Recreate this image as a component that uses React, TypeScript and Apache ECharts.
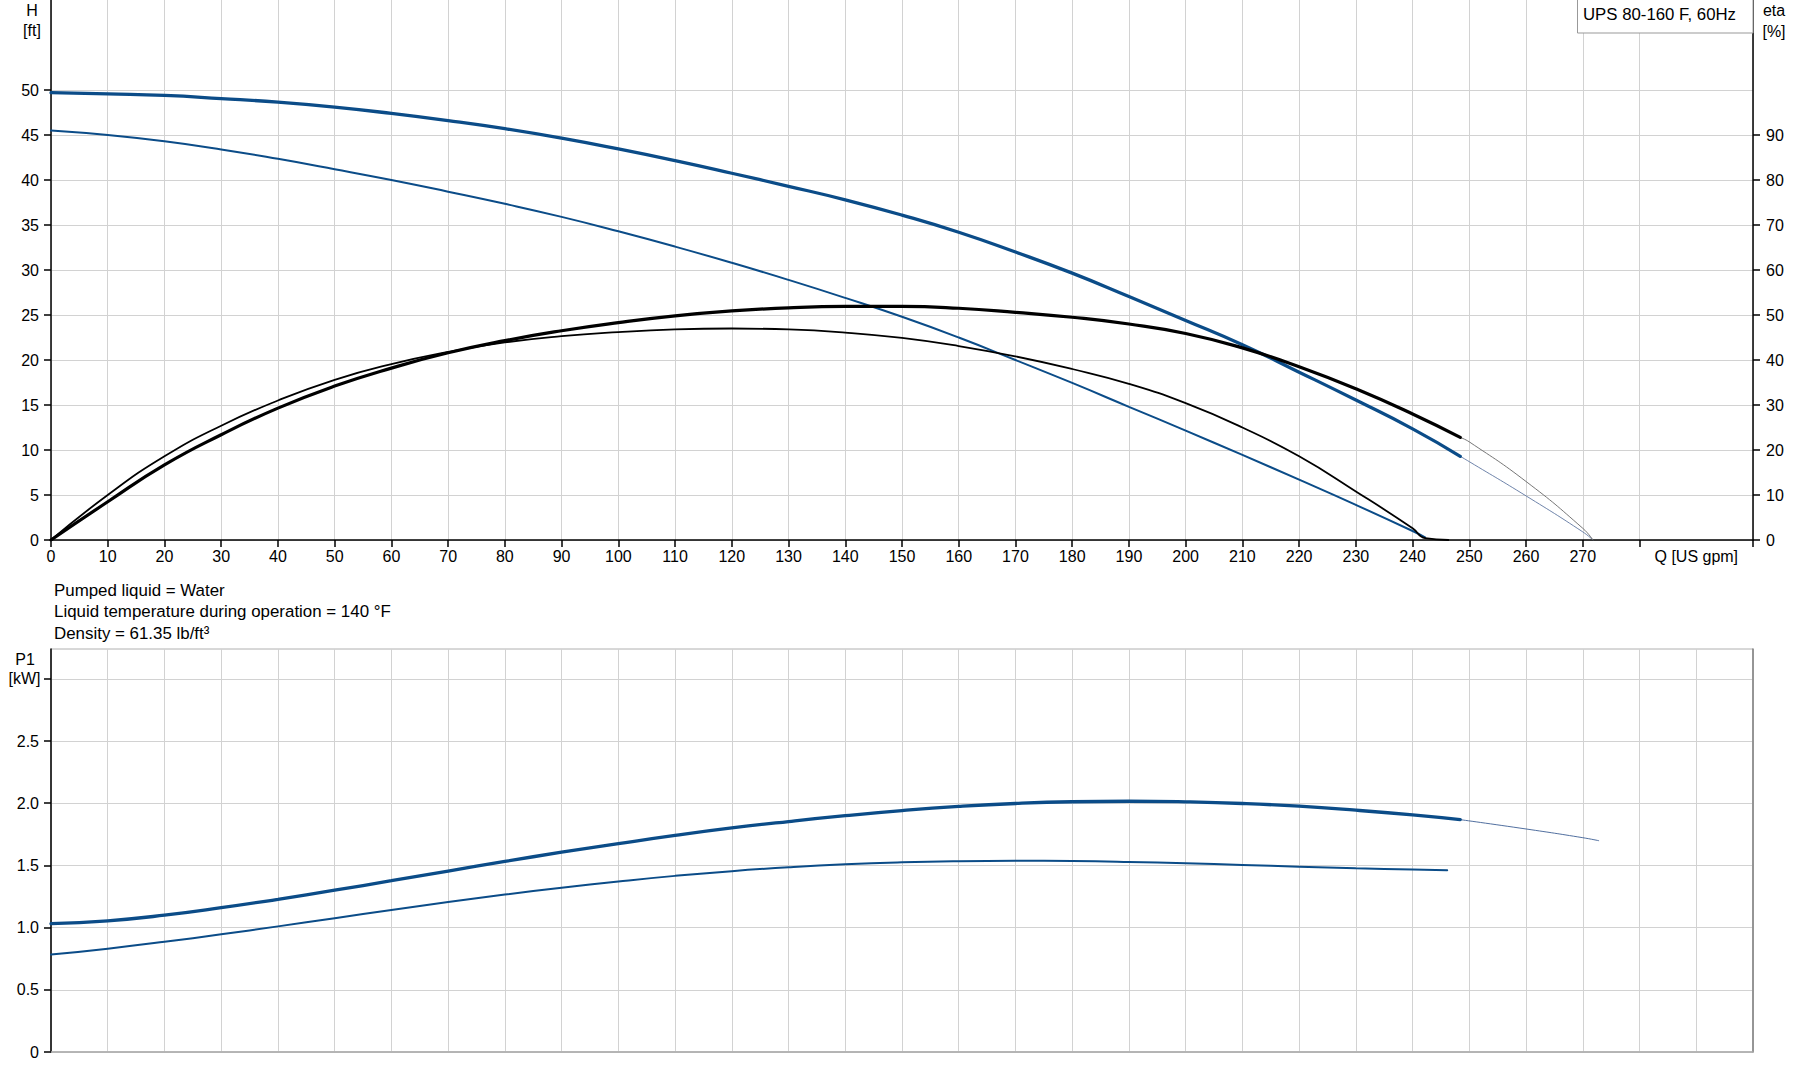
import React, { useEffect, useRef } from 'react';
import * as echarts from 'echarts';

// ---------- data (Q in US gpm) ----------
const qHMax = [0, 10, 20, 30, 40, 50, 60, 70, 80, 90, 100, 110, 120, 130, 140, 150, 160, 170, 180, 190, 200, 210, 220, 230, 240, 248.4];
const hMax = [49.7, 49.56, 49.4, 49.05, 48.65, 48.1, 47.4, 46.6, 45.7, 44.65, 43.45, 42.15, 40.75, 39.3, 37.8, 36.1, 34.2, 32.0, 29.65, 27.05, 24.4, 21.7, 18.65, 15.55, 12.35, 9.3];
const qHMaxExt = [248.4, 250, 260, 270, 271.8];
const hMaxExt = [9.3, 8.7, 4.9, 0.9, 0];

const qHLow = [0, 10, 20, 30, 40, 50, 60, 70, 80, 90, 100, 110, 120, 130, 140, 150, 160, 170, 180, 190, 200, 210, 220, 230, 240, 242.2];
const hLow = [45.5, 45.0, 44.3, 43.4, 42.35, 41.2, 40.0, 38.7, 37.35, 35.9, 34.3, 32.6, 30.8, 28.9, 26.9, 24.8, 22.5, 20.0, 17.45, 14.8, 12.15, 9.45, 6.7, 3.9, 1.0, 0.3];

const qEtaMax = [0, 10, 20, 30, 40, 50, 60, 70, 80, 90, 100, 110, 120, 130, 140, 150, 160, 170, 180, 190, 200, 210, 220, 230, 240, 248.4];
const etaMax = [0, 8.5, 16.7, 23.4, 29.3, 34.2, 38.2, 41.6, 44.3, 46.5, 48.3, 49.8, 50.9, 51.6, 51.9, 51.9, 51.5, 50.6, 49.5, 48.0, 45.9, 42.7, 38.5, 33.6, 28.0, 22.8];
const qEtaMaxExt = [248.4, 250, 260, 270, 271.8];
const etaMaxExt = [22.8, 21.8, 13.0, 2.6, 0];

const qEtaLow = [0, 10, 20, 30, 40, 50, 60, 70, 80, 90, 100, 110, 120, 130, 140, 150, 160, 170, 180, 190, 200, 210, 220, 230, 240, 242.2, 246.3];
const etaLow = [0, 10.0, 18.6, 25.4, 31.0, 35.6, 39.1, 41.8, 43.9, 45.3, 46.2, 46.8, 47.0, 46.8, 46.1, 44.9, 43.1, 40.8, 38.0, 34.7, 30.4, 25.0, 18.6, 10.8, 2.6, 0.4, 0];

const qP1Max = [0, 10, 20, 30, 40, 50, 60, 70, 80, 90, 100, 110, 120, 130, 140, 150, 160, 170, 180, 190, 200, 210, 220, 230, 240, 248.4];
const p1Max = [1.032, 1.055, 1.100, 1.160, 1.228, 1.301, 1.377, 1.455, 1.532, 1.606, 1.675, 1.741, 1.801, 1.853, 1.900, 1.941, 1.974, 1.998, 2.012, 2.016, 2.011, 1.998, 1.976, 1.944, 1.906, 1.868];
const qP1MaxExt = [248.4, 260, 270, 272.8];
const p1MaxExt = [1.868, 1.793, 1.723, 1.699];

const qP1Low = [0, 10, 20, 30, 40, 50, 60, 70, 80, 90, 100, 110, 120, 130, 140, 150, 160, 170, 180, 190, 200, 210, 220, 230, 240, 246.1];
const p1Low = [0.783, 0.831, 0.886, 0.946, 1.010, 1.076, 1.142, 1.206, 1.266, 1.321, 1.371, 1.416, 1.454, 1.485, 1.509, 1.525, 1.534, 1.537, 1.535, 1.528, 1.517, 1.504, 1.490, 1.477, 1.467, 1.462];

// ---------- tick labels ----------
const qLabelValues = [0, 10, 20, 30, 40, 50, 60, 70, 80, 90, 100, 110, 120, 130, 140, 150, 160, 170, 180, 190, 200, 210, 220, 230, 240, 250, 260, 270, 290];
const qTickValues = [0, 10, 20, 30, 40, 50, 60, 70, 80, 90, 100, 110, 120, 130, 140, 150, 160, 170, 180, 190, 200, 210, 220, 230, 240, 250, 260, 270, 280, 300];
const qAxisName = 'Q [US gpm]';
const hLabelValues = [0, 5, 10, 15, 20, 25, 30, 35, 40, 45, 50];
const etaLabelValues = [0, 10, 20, 30, 40, 50, 60, 70, 80, 90];
const p1LabelValues = [0, 0.5, 1.0, 1.5, 2.0, 2.5];
const p1TickValues = [0, 0.5, 1.0, 1.5, 2.0, 2.5, 3.0];
const titleText = 'UPS 80-160 F, 60Hz';
const noteLines = [
  'Pumped liquid = Water',
  'Liquid temperature during operation = 140 °F',
  'Density = 61.35 lb/ft³',
];

const zip = (q: number[], v: number[]) => q.map((x, i) => [x, v[i]]);

const FONT = 'Arial, "Liberation Sans", sans-serif';
const BLUE = '#0b4c88';
const GRID = '#d2d2d2';

export default function App() {
  const ref = useRef<HTMLDivElement>(null);

  useEffect(() => {
    if (!ref.current) return;
    const chart = echarts.init(ref.current, undefined, { renderer: 'svg' });

    const axisText = { color: '#000', fontSize: 16, fontFamily: FONT };

    const line = (name: string, data: number[][], color: string, width: number, xi: number, yi: number) => ({
      name,
      type: 'line',
      xAxisIndex: xi,
      yAxisIndex: yi,
      data,
      smooth: 0.5,
      symbol: 'none',
      showSymbol: false,
      lineStyle: { color, width, cap: 'round' },
      emphasis: { disabled: true },
      z: 5,
    });

    const option: any = {
      animation: false,
      backgroundColor: '#fff',
      grid: [
        { left: 51, top: 0, width: 1702, height: 540, show: false },
        { left: 51, top: 649, width: 1702, height: 403, show: true, borderColor: '#b0b0b0', borderWidth: 1 },
      ],
      xAxis: [
        {
          type: 'value', gridIndex: 0, min: 0, max: 300, interval: 10,
          axisLine: { show: true, onZero: false, lineStyle: { color: '#000', width: 1.5 } },
          axisTick: { show: true, length: 7, lineStyle: { color: '#000', width: 1.5 }, customValues: qTickValues },
          axisLabel: {
            ...axisText, margin: 8, customValues: qLabelValues,
            formatter: (v: number) => (v === 290 ? qAxisName : String(v)),
          },
          splitLine: { show: true, lineStyle: { color: GRID, width: 1 } },
        },
        {
          type: 'value', gridIndex: 1, min: 0, max: 300, interval: 10,
          axisLine: { show: true, onZero: false, lineStyle: { color: '#aaa', width: 1.5 } },
          axisTick: { show: false },
          axisLabel: { show: false },
          splitLine: { show: true, lineStyle: { color: GRID, width: 1 } },
        },
      ],
      yAxis: [
        {
          type: 'value', gridIndex: 0, position: 'left', min: 0, max: 60, interval: 5,
          axisLine: { show: true, onZero: false, lineStyle: { color: '#000', width: 1.5 } },
          axisTick: { show: true, length: 7, lineStyle: { color: '#000', width: 1.5 }, customValues: hLabelValues },
          axisLabel: { ...axisText, margin: 12, customValues: hLabelValues },
          splitLine: { show: true, lineStyle: { color: GRID, width: 1 } },
        },
        {
          type: 'value', gridIndex: 0, position: 'right', min: 0, max: 120, interval: 10,
          axisLine: { show: true, onZero: false, lineStyle: { color: '#000', width: 1.5 } },
          axisTick: { show: true, length: 7, lineStyle: { color: '#000', width: 1.5 }, customValues: etaLabelValues },
          axisLabel: { ...axisText, margin: 13, customValues: etaLabelValues },
          splitLine: { show: false },
        },
        {
          type: 'value', gridIndex: 1, position: 'left', min: 0, max: 3.24, interval: 0.5,
          axisLine: { show: true, onZero: false, lineStyle: { color: '#000', width: 1.5 } },
          axisTick: { show: true, length: 7, lineStyle: { color: '#000', width: 1.5 }, customValues: p1TickValues },
          axisLabel: {
            ...axisText, margin: 12, customValues: p1LabelValues,
            formatter: (v: number) => (v === 0 ? '0' : v.toFixed(1)),
          },
          splitLine: { show: true, lineStyle: { color: GRID, width: 1 } },
        },
        {
          type: 'value', gridIndex: 1, position: 'right', min: 0, max: 3.24, interval: 0.5,
          axisLine: { show: true, onZero: false, lineStyle: { color: '#808080', width: 1.5 } },
          axisTick: { show: false },
          axisLabel: { show: false },
          splitLine: { show: false },
        },
      ],
      series: [
        line('H max ext', zip(qHMaxExt, hMaxExt), '#5f76a0', 0.9, 0, 0),
        line('eta max ext', zip(qEtaMaxExt, etaMaxExt), '#666', 0.9, 0, 1),
        line('H low', zip(qHLow, hLow), BLUE, 2, 0, 0),
        line('eta low', zip(qEtaLow, etaLow), '#000', 1.8, 0, 1),
        line('H max', zip(qHMax, hMax), BLUE, 3.3, 0, 0),
        line('eta max', zip(qEtaMax, etaMax), '#000', 3.2, 0, 1),
        line('P1 max ext', zip(qP1MaxExt, p1MaxExt), '#3d5f94', 0.9, 1, 2),
        line('P1 low', zip(qP1Low, p1Low), BLUE, 2, 1, 2),
        line('P1 max', zip(qP1Max, p1Max), BLUE, 3.3, 1, 2),
      ],
      graphic: [
        { type: 'text', x: 32, y: 10, z: 50, style: { text: 'H', fill: '#000', font: `16px ${FONT}`, textAlign: 'center', textVerticalAlign: 'middle' } },
        { type: 'text', x: 32, y: 30, z: 50, style: { text: '[ft]', fill: '#000', font: `16px ${FONT}`, textAlign: 'center', textVerticalAlign: 'middle' } },
        { type: 'text', x: 1774, y: 10, z: 50, style: { text: 'eta', fill: '#000', font: `16px ${FONT}`, textAlign: 'center', textVerticalAlign: 'middle' } },
        { type: 'text', x: 1774, y: 31, z: 50, style: { text: '[%]', fill: '#000', font: `16px ${FONT}`, textAlign: 'center', textVerticalAlign: 'middle' } },
        { type: 'rect', z: 50, shape: { x: 1577.5, y: -1, width: 175.5, height: 34 }, style: { fill: '#fff', stroke: '#999', lineWidth: 1 } },
        { type: 'text', x: 1583, y: 14, z: 51, style: { text: titleText, fill: '#000', font: `16.8px ${FONT}`, textAlign: 'left', textVerticalAlign: 'middle' } },
        ...noteLines.map((t, i) => ({
          type: 'text', x: 54, y: 590 + i * 21.5, z: 50,
          style: { text: t, fill: '#000', font: `16.9px ${FONT}`, textAlign: 'left', textVerticalAlign: 'middle' },
        })),
        { type: 'text', x: 25, y: 659, z: 50, style: { text: 'P1', fill: '#000', font: `16px ${FONT}`, textAlign: 'center', textVerticalAlign: 'middle' } },
        { type: 'text', x: 24.5, y: 678, z: 50, style: { text: '[kW]', fill: '#000', font: `16px ${FONT}`, textAlign: 'center', textVerticalAlign: 'middle' } },
      ],
    };

    chart.setOption(option);
    return () => chart.dispose();
  }, []);

  return <div ref={ref} style={{ position: 'absolute', left: 0, top: 0, width: 1795, height: 1081 }} />;
}
